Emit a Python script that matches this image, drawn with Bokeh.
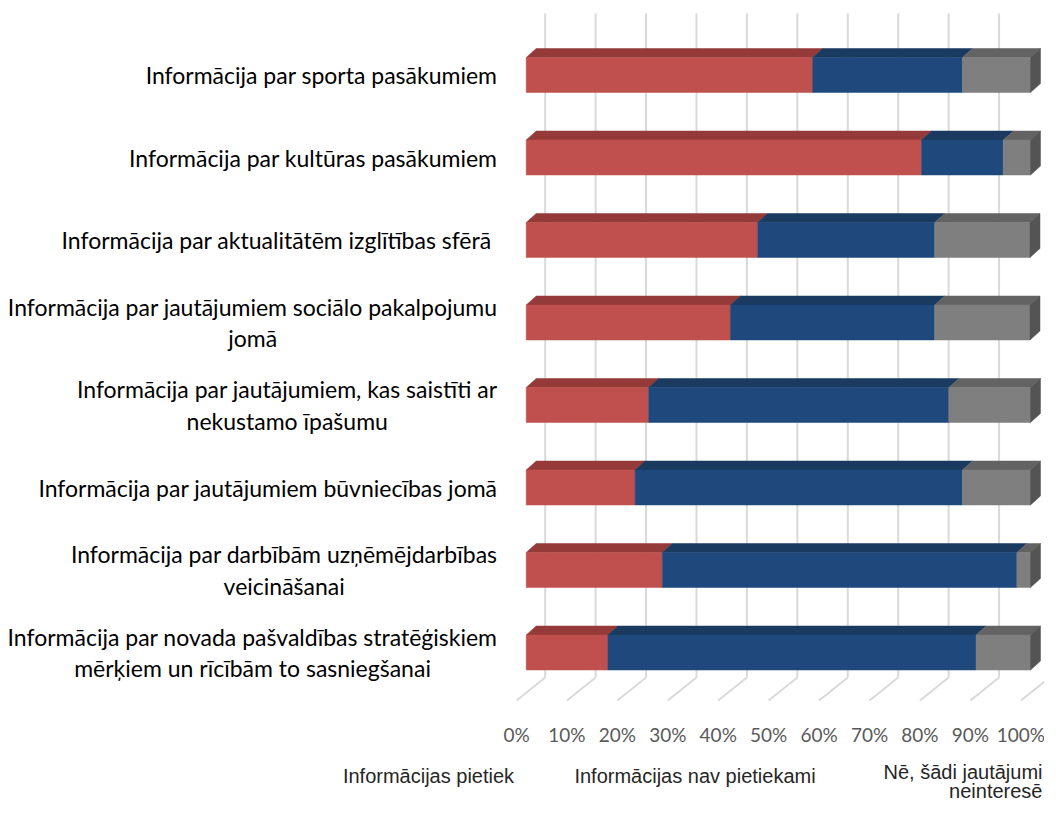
from bokeh.plotting import figure
from bokeh.models import Range1d
from bokeh.core.properties import value
from bokeh.embed import file_html
from bokeh.resources import INLINE

# ---------------- data ----------------
categories = [
    "Informācija par sporta pasākumiem",
    "Informācija par kultūras pasākumiem",
    "Informācija par aktualitātēm  izglītības sfērā",
    "Informācija par jautājumiem sociālo pakalpojumu\njomā",
    "Informācija par jautājumiem, kas saistīti ar\nnekustamo īpašumu",
    "Informācija par jautājumiem būvniecības jomā",
    "Informācija par darbībām uzņēmējdarbības\nveicināšanai",
    "Informācija par novada pašvaldības stratēģiskiem\nmērķiem un rīcībām to sasniegšanai",
]
series_names = ["Informācijas pietiek", "Informācijas nav pietiekami", "Nē, šādi jautājumi\nneinteresē"]
pietiek = [56.8, 78.4, 45.9, 40.5, 24.3, 21.6, 27.0, 16.2]
nav_pietiekami = [29.7, 16.2, 35.1, 40.5, 59.5, 64.9, 70.3, 73.0]
neinteresē = [13.5, 5.4, 18.9, 18.9, 16.2, 13.5, 2.7, 10.8]
ticks = [0, 10, 20, 30, 40, 50, 60, 70, 80, 90, 100]
tick_labels = ["0%", "10%", "20%", "30%", "40%", "50%", "60%", "70%", "80%", "90%", "100%"]

front_colors = ["#C0504D", "#1F497D", "#7F7F7F"]
top_colors = ["#943A38", "#1A3A5F", "#636363"]
side_color = "#545454"

# ---------------- geometry (canvas pixels -> data) ----------------
W, H = 1044, 803
X0 = 525.7               # canvas x of 0 %
X100 = 1030.0            # canvas x of 100 %
PX_PCT = (X100 - X0) / 100.0
ROW_PX = 82.5            # pixels per category row
Y0 = 74.5                # canvas y of first row centre


def px_x(cx):
    return (cx - X0) / PX_PCT


def px_y(cy):
    return (cy - Y0) / ROW_PX


DX = 10 / PX_PCT         # bar depth (x)
DY = 9 / ROW_PX          # bar depth (y)
BAR_H = 35 / ROW_PX
BACK_DX = 19 / PX_PCT
FLOOR_DX = -9.7 / PX_PCT

p = figure(width=W, height=H, output_backend="svg", toolbar_location=None,
           x_range=Range1d(px_x(0), px_x(W)),
           y_range=Range1d(px_y(H), px_y(0)),
           min_border=0, outline_line_color=None)
p.axis.visible = False
p.grid.visible = False
p.background_fill_color = "white"
p.border_fill_color = "white"

rows = list(range(len(categories)))

# ---------------- gridlines (back wall + floor) ----------------
grid_top = px_y(13)
grid_bot = px_y(677)
floor_front = px_y(700)
p.segment(x0=[t + BACK_DX for t in ticks], y0=[grid_top] * len(ticks),
          x1=[t + BACK_DX for t in ticks], y1=[grid_bot] * len(ticks),
          line_color="#D9D9D9", line_width=2)
p.segment(x0=[t + BACK_DX for t in ticks], y0=[grid_bot] * len(ticks),
          x1=[t + FLOOR_DX for t in ticks], y1=[floor_front] * len(ticks),
          line_color="#D9D9D9", line_width=2)

# ---------------- 3D stacked bars ----------------
series = [pietiek, nav_pietiekami, neinteresē]
lefts = [0.0] * len(rows)
for k, vals in enumerate(series):
    rights = [l + v for l, v in zip(lefts, vals)]
    xs, ys = [], []
    for r, l, rt in zip(rows, lefts, rights):
        top = r - BAR_H / 2
        xs.append([l, rt, rt + DX, l + DX])
        ys.append([top, top, top - DY, top - DY])
    p.patches(xs=xs, ys=ys, fill_color=top_colors[k], line_color=top_colors[k], line_width=0.5)
    p.hbar(y=rows, left=lefts, right=rights, height=BAR_H,
           fill_color=front_colors[k], line_color=front_colors[k], line_width=0.5)
    lefts = rights

sx, sy = [], []
for r, rt in zip(rows, lefts):
    top = r - BAR_H / 2
    bot = r + BAR_H / 2
    sx.append([rt, rt + DX, rt + DX, rt])
    sy.append([top, top - DY, bot - DY, bot])
p.patches(xs=sx, ys=sy, fill_color=side_color, line_color=side_color, line_width=0.5)

# ---------------- category labels ----------------
p.text(x=[px_x(497)] * len(rows), y=rows, text=categories,
       anchor="center_right", text_align="center", text_baseline="middle",
       text_line_height=1.12, text_font=value("Lato"), text_font_size="23px",
       text_color="#000000")

# ---------------- tick labels ----------------
p.text(x=[t + FLOOR_DX for t in ticks], y=[px_y(734)] * len(ticks), text=tick_labels,
       text_align="center", text_baseline="middle",
       text_font=value("Lato"), text_font_size="19px", text_color="#595959")

# ---------------- legend (text only) ----------------
p.text(x=[px_x(428), px_x(694.5)], y=[px_y(775)] * 2, text=series_names[:2],
       text_align="center", text_baseline="middle",
       text_font=value("Liberation Sans"), text_font_size="20px", text_color="#262626")
p.text(x=[px_x(1042)], y=[px_y(802)], text=[series_names[2]],
       anchor="bottom_right", text_align="right",
       text_line_height=0.9,
       text_font=value("Liberation Sans"), text_font_size="20px", text_color="#262626")

open("out.html", "w").write(file_html(p, INLINE))
